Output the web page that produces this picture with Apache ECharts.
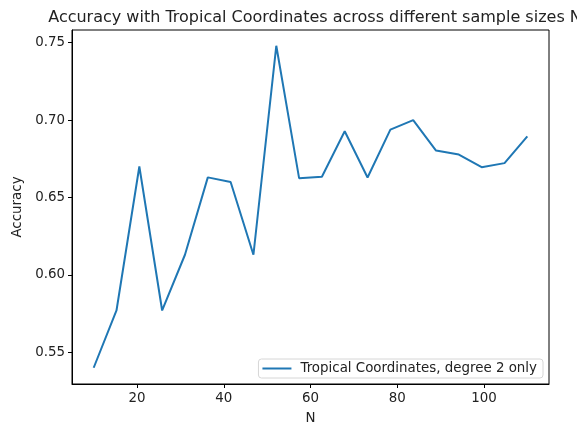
<!DOCTYPE html>
<html>
<head>
<meta charset="utf-8">
<script src="https://cdn.jsdelivr.net/npm/echarts@6/dist/echarts.min.js"></script>
<style>
  html, body { margin: 0; padding: 0; background: #fff; }
  #main { width: 577px; height: 427px; }
</style>
</head>
<body>
<div id="main"></div>
<script>
// 数据
const sampleSizes = [10, 15.26, 20.53, 25.79, 31.05, 36.32, 41.58, 46.84, 52.11, 57.37,
  62.63, 67.89, 73.16, 78.42, 83.68, 88.95, 94.21, 99.47, 104.74, 110]
const accuracy = [0.540, 0.577, 0.670, 0.577, 0.613, 0.663, 0.660, 0.613, 0.748, 0.6625,
  0.6634, 0.6928, 0.6629, 0.6938, 0.700, 0.6803, 0.6777, 0.6696, 0.6722, 0.6895]
const xTicks = [20, 40, 60, 80, 100]
const yTicks = [0.55, 0.60, 0.65, 0.70, 0.75]

const seriesName = 'Tropical Coordinates, degree 2 only'
const font = 'DejaVu Sans'
const txt = '#222'

let chart = echarts.init(document.getElementById('main'), null, { renderer: 'canvas' })

const option = {
  animation: false,
  textStyle: { fontFamily: font },
  title: {
    text: 'Accuracy with Tropical Coordinates across different sample sizes N',
    left: 310,
    textAlign: 'center',
    top: 5,
    textStyle: { fontFamily: font, fontSize: 16, fontWeight: 'normal', color: txt }
  },
  grid: {
    left: 72, right: 28, top: 30, bottom: 43,
    outerBoundsMode: 'none',
    containLabel: false,
    show: true, borderColor: '#000', borderWidth: 1
  },
  legend: {
    right: 34, bottom: 49,
    data: [seriesName],
    icon: 'rect',
    itemWidth: 29, itemHeight: 2,
    padding: [3, 6, 3, 4],
    borderColor: '#d6d6d6', borderWidth: 1, borderRadius: 3,
    backgroundColor: 'rgba(255,255,255,0.8)',
    textStyle: { fontFamily: font, fontSize: 13.4, color: txt, padding: [0, 0, 0, 4] }
  },
  xAxis: {
    type: 'value',
    min: 5, max: 115,
    name: 'N',
    nameLocation: 'middle',
    nameGap: 28,
    nameTextStyle: { fontFamily: font, fontSize: 13.4, color: txt },
    splitLine: { show: false },
    axisLine: { show: true, onZero: false, lineStyle: { color: '#000', width: 1 } },
    axisTick: { show: true, inside: false, length: 4, lineStyle: { color: '#000' }, customValues: xTicks },
    axisLabel: { color: txt, fontSize: 13.4, margin: 8, customValues: xTicks }
  },
  yAxis: {
    type: 'value',
    min: 0.5295, max: 0.7582,
    name: 'Accuracy',
    nameLocation: 'middle',
    nameGap: 44,
    nameTextStyle: { fontFamily: font, fontSize: 13.4, color: txt },
    splitLine: { show: false },
    axisLine: { show: true, onZero: false, lineStyle: { color: '#000', width: 1 } },
    axisTick: { show: true, inside: false, length: 4, lineStyle: { color: '#000' }, customValues: yTicks },
    axisLabel: {
      color: txt, fontSize: 13.4, margin: 7, customValues: yTicks,
      formatter: v => v.toFixed(2)
    }
  },
  series: [{
    name: seriesName,
    type: 'line',
    data: sampleSizes.map((x, i) => [x, accuracy[i]]),
    showSymbol: false,
    symbol: 'none',
    color: '#1f77b4',
    lineStyle: { color: '#1f77b4', width: 2 }
  }]
}

chart.setOption(option)
</script>
</body>
</html>
